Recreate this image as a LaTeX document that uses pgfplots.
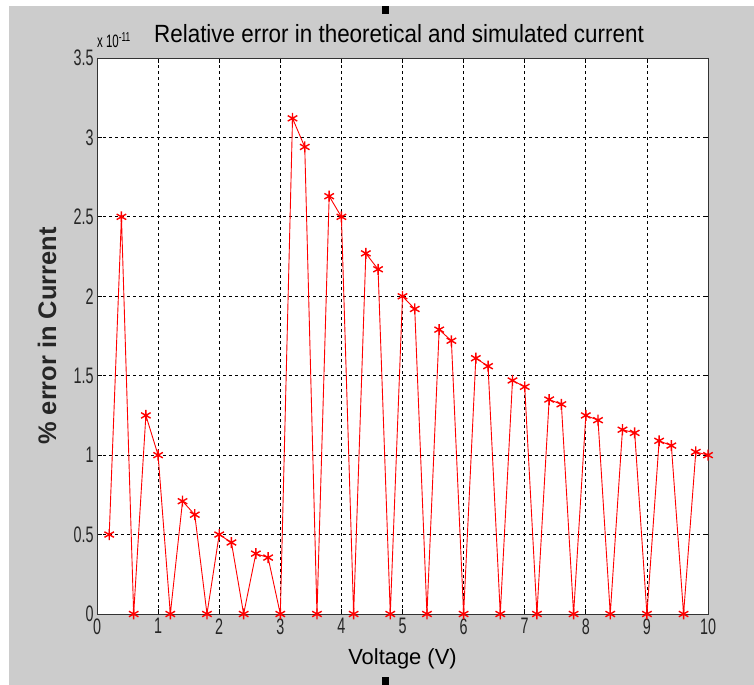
\documentclass[border=0pt]{standalone}
\usepackage{pgfplots}
\pgfplotsset{compat=1.18}
\usepackage{fontspec}
\setmainfont{Liberation Sans}
\newfontfamily\ticks[FakeStretch=0.64]{Liberation Sans}
\newfontfamily\titlef[FakeStretch=0.9]{Liberation Sans}
\definecolor{bg}{RGB}{204,204,204}
\begin{document}
\begin{tikzpicture}[x=1bp,y=1bp]
\fill[white] (0,0) rectangle (754,685);
\fill[bg] (9,0) rectangle (754,679);
\fill[black] (382,671) rectangle (389,679);
\fill[black] (382,0) rectangle (389,8);
\begin{axis}[
  at={(97bp,71bp)}, anchor=south west,
  scale only axis, width=611bp, height=556bp,
  xmin=0, xmax=10, ymin=0, ymax=3.5,
  xtick={0,1,...,10},
  ytick={0,0.5,1,1.5,2,2.5,3,3.5},
  yticklabels={0,0.5,1,1.5,2,2.5,3,3.5},
  axis background/.style={fill=white},
  axis line style={black!80, line width=0.9bp},
  tick align=inside,
  major tick length=5bp,
  tick style={black, line width=0.7bp},
  grid=major,
  major grid style={black, line width=0.8bp, dash pattern=on 3bp off 3bp},
  /pgf/number format/assume math mode=true,
  ticklabel style={font=\ticks\fontsize{22.5}{22.5}\selectfont, text=black!85},
  xticklabel style={yshift=-1bp},
  xlabel={Voltage (V)},
  ylabel={\% error in Current},
  xlabel style={font=\fontsize{22}{22}\selectfont, at={(axis description cs:0.5,0)}, anchor=center, yshift=-45bp},
  ylabel style={font=\bfseries\fontsize{25.5}{25.5}\selectfont, text=black!85, at={(axis description cs:0,0.5)}, anchor=center, yshift=50bp},
]
\addplot[red, line width=0.9bp, mark=asterisk, mark size=5.5bp, mark options={line width=1.4bp}] coordinates {
(0.2,0.5) (0.4,2.5) (0.6,0) (0.8,1.25) (1.0,1.0) (1.2,0)
(1.4,0.71) (1.6,0.625) (1.8,0) (2.0,0.5) (2.2,0.45) (2.4,0)
(2.6,0.38) (2.8,0.355) (3.0,0) (3.2,3.12) (3.4,2.94) (3.6,0)
(3.8,2.63) (4.0,2.5) (4.2,0) (4.4,2.27) (4.6,2.17) (4.8,0)
(5.0,2.0) (5.2,1.92) (5.4,0) (5.6,1.79) (5.8,1.72) (6.0,0)
(6.2,1.61) (6.4,1.56) (6.6,0) (6.8,1.47) (7.0,1.43) (7.2,0)
(7.4,1.35) (7.6,1.32) (7.8,0) (8.0,1.25) (8.2,1.22) (8.4,0)
(8.6,1.16) (8.8,1.14) (9.0,0) (9.2,1.09) (9.4,1.06) (9.6,0)
(9.8,1.02) (10.0,1.0)
};
\end{axis}
\node[font=\titlef\fontsize{25}{25}\selectfont, anchor=base] at (399,642) {Relative error in theoretical and simulated current};
\node[font=\ticks\fontsize{18}{18}\selectfont, anchor=base west, inner sep=0] at (97,637) {x 10\raisebox{6.5bp}{\fontsize{13}{13}\selectfont -11}};
\end{tikzpicture}
\end{document}
